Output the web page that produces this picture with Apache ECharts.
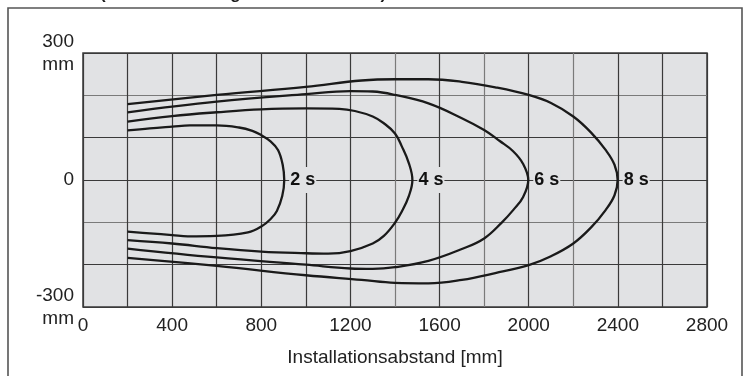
<!DOCTYPE html>
<html>
<head>
<meta charset="utf-8">
<script src="https://cdn.jsdelivr.net/npm/echarts@6/dist/echarts.min.js"></script>
<style>html,body{margin:0;padding:0;background:#fff}#c{width:747px;height:376px}</style>
</head>
<body>
<div id="c"></div>
<script>
// ---- data ----
var titleText = '(Zeit zur Meldung des Sensors in s)';
var xAxisTitle = 'Installationsabstand [mm]';
var xTickLabels = [0, 400, 800, 1200, 1600, 2000, 2400, 2800];
var yTickLabels = { '300': '300\nmm', '0': '0', '-300': '-300\nmm' };

var curve2s = [[200,117],[300,122],[400,126],[480,129],[600,129],[700,124],[760,116],[800,106],[840,92],[875,71],[896,36],[903,0],
  [894,-38],[870,-73],[842,-92],[800,-110],[740,-124],[600,-132],[470,-133],[400,-130],[300,-126],[200,-122]];
var curve4s = [[200,138],[400,151],[600,160],[800,167],[1000,169],[1150,168],[1220,163],[1300,150],[1350,134],[1400,110],[1430,80],[1462,40],[1478,0],
  [1462,-38],[1430,-75],[1400,-101],[1350,-132],[1300,-150],[1200,-168],[1100,-174],[1000,-173],[800,-169],[600,-161],[400,-150],[200,-142]];
var curve6s = [[200,160],[600,185],[1000,203],[1200,210],[1300,209],[1400,201],[1550,181],[1700,146],[1800,118],[1870,92],[1930,68],[1975,38],[1998,0],
  [1975,-40],[1932,-70],[1880,-100],[1800,-138],[1700,-163],[1550,-191],[1400,-206],[1300,-210],[1200,-209],[1000,-200],[600,-183],[200,-162]];
var curve8s = [[200,179],[600,201],[1000,220],[1250,235],[1400,238],[1550,238],[1700,232],[1850,219],[2000,201],[2100,182],[2200,150],[2280,112],[2345,71],[2385,36],[2399,0],
  [2385,-36],[2345,-71],[2280,-112],[2200,-150],[2100,-180],[2000,-201],[1850,-220],[1700,-236],[1550,-244],[1400,-243],[1250,-236],[1000,-225],[600,-203],[200,-184]];
var labelTexts = ['2 s', '4 s', '6 s', '8 s'];
var noseX = [903, 1478, 1998, 2399];

// ---- chart ----
var FONT = 'Arial, "Liberation Sans", sans-serif';
var DARK = '#3a3a3a', GRAY = '#7a7a7a', BG = '#e1e2e4';
var chart = echarts.init(document.getElementById('c'));
var curves = [curve2s, curve4s, curve6s, curve8s];
var series = curves.map(function (c) {
  return {
    type: 'line', data: c, smooth: 0.4, symbol: 'none', silent: true,
    lineStyle: { color: '#1a1a1a', width: 2.3 }, z: 3
  };
});
series.push({
  type: 'scatter', symbolSize: 0, silent: true, z: 4,
  itemStyle: { opacity: 1 },
  data: noseX.map(function (x, i) { return [x, 0, labelTexts[i]]; }),
  label: {
    show: true, position: 'right', distance: 5, opacity: 1,
    formatter: function (p) { return p.value[2]; },
    fontFamily: FONT, fontSize: 18, fontWeight: 'bold', color: '#111',
    backgroundColor: BG, padding: [4, 1, 3, 1], lineHeight: 19
  }
});

chart.setOption({
  animation: false,
  backgroundColor: '#fff',
  grid: { left: 83, right: 40, top: 53, bottom: 69, show: true, backgroundColor: BG, borderColor: DARK, borderWidth: 1.5 },
  graphic: [
    { type: 'rect', shape: { x: 8, y: 8, width: 734, height: 380 }, style: { fill: 'none', stroke: '#555', lineWidth: 1.6 }, z: -1 },
    { type: 'text', x: 100, y: 3, style: { text: titleText, font: 'bold 17px ' + FONT, fill: '#1a1a1a', verticalAlign: 'bottom', align: 'left' } }
  ],
  xAxis: {
    type: 'value', min: 0, max: 2800, interval: 200,
    name: xAxisTitle, nameLocation: 'middle', nameGap: 41,
    nameTextStyle: { fontFamily: FONT, fontSize: 19, color: '#222' },
    axisLine: { show: false }, axisTick: { show: false },
    axisLabel: {
      margin: 9, fontFamily: FONT, fontSize: 19, color: '#222',
      formatter: function (v) { return xTickLabels.indexOf(v) >= 0 ? String(v) : ''; }
    },
    splitLine: { show: true, lineStyle: { width: 1.2, color: [DARK, DARK, DARK, DARK, DARK, DARK, DARK, GRAY, DARK, GRAY, DARK, GRAY, DARK, DARK, DARK] } }
  },
  yAxis: {
    type: 'value', min: -300, max: 300, interval: 100,
    axisLine: { show: false }, axisTick: { show: false },
    axisLabel: {
      margin: 9, fontFamily: FONT, fontSize: 19, color: '#222', lineHeight: 23,
      formatter: function (v) { return yTickLabels[String(v)] || ''; }
    },
    splitLine: { show: true, lineStyle: { width: 1.2, color: [DARK, DARK, GRAY, DARK, DARK, GRAY, DARK] } }
  },
  series: series
});
</script>
</body>
</html>
